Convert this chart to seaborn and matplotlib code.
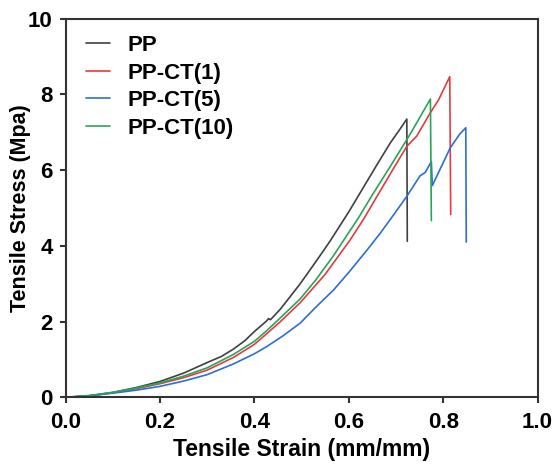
import matplotlib
matplotlib.use("Agg")
import matplotlib.pyplot as plt
import pandas as pd
import seaborn as sns

# strain (mm/mm) and stress (MPa)
pp_strain = [0.0, 0.05, 0.1, 0.15, 0.2, 0.25, 0.3, 0.33, 0.355, 0.38, 0.4, 0.426, 0.43,
             0.434, 0.455, 0.497, 0.53, 0.56, 0.6, 0.624, 0.66, 0.688, 0.705, 0.723, 0.724]
pp_stress = [0.0, 0.04, 0.13, 0.26, 0.42, 0.64, 0.92, 1.08, 1.27, 1.5, 1.74, 2.02, 2.08,
             2.05, 2.33, 3.0, 3.58, 4.12, 4.9, 5.4, 6.15, 6.72, 7.02, 7.35, 4.12]

ct1_strain = [0.0, 0.05, 0.1, 0.15, 0.2, 0.25, 0.3, 0.355, 0.4, 0.426, 0.455, 0.497,
              0.55, 0.603, 0.631, 0.65, 0.695, 0.723, 0.744, 0.772, 0.79, 0.814, 0.816]
ct1_stress = [0.0, 0.04, 0.12, 0.23, 0.36, 0.52, 0.72, 1.05, 1.40, 1.68, 2.0, 2.5,
              3.25, 4.16, 4.7, 5.1, 6.05, 6.63, 6.9, 7.5, 7.85, 8.47, 4.83]

ct5_strain = [0.0, 0.05, 0.1, 0.15, 0.2, 0.25, 0.3, 0.355, 0.4, 0.426, 0.46, 0.497,
              0.53, 0.568, 0.6, 0.638, 0.667, 0.695, 0.723, 0.751, 0.762, 0.775, 0.777,
              0.815, 0.835, 0.848, 0.849]
ct5_stress = [0.0, 0.04, 0.11, 0.19, 0.29, 0.43, 0.60, 0.88, 1.15, 1.34, 1.62, 1.96,
              2.38, 2.84, 3.3, 3.88, 4.34, 4.82, 5.31, 5.85, 5.94, 6.23, 5.59,
              6.59, 6.95, 7.12, 4.1]

ct10_strain = [0.0, 0.05, 0.1, 0.15, 0.2, 0.25, 0.3, 0.355, 0.4, 0.426, 0.455, 0.497,
               0.53, 0.568, 0.621, 0.65, 0.688, 0.73, 0.773, 0.775]
ct10_stress = [0.0, 0.05, 0.13, 0.25, 0.38, 0.56, 0.78, 1.13, 1.48, 1.76, 2.1, 2.6,
               3.1, 3.75, 4.75, 5.35, 6.1, 6.95, 7.88, 4.67]

labels = ["PP", "PP-CT(1)", "PP-CT(5)", "PP-CT(10)"]
colors = ["#404040", "#e23c3c", "#2b6fd4", "#2ba35a"]

frames = []
for lab, xs, ys in zip(labels,
                       [pp_strain, ct1_strain, ct5_strain, ct10_strain],
                       [pp_stress, ct1_stress, ct5_stress, ct10_stress]):
    frames.append(pd.DataFrame({"strain": xs, "stress": ys, "sample": lab}))
df = pd.concat(frames, ignore_index=True)

sns.set_style("ticks")
plt.rcParams['font.family'] = ['Liberation Sans', 'DejaVu Sans']
plt.rcParams['font.weight'] = 'bold'
plt.rcParams['text.color'] = 'black'
plt.rcParams['axes.labelcolor'] = 'black'
plt.rcParams['xtick.color'] = 'black'
plt.rcParams['ytick.color'] = 'black'

fig = plt.figure(figsize=(5.57, 4.68), dpi=100)
ax = fig.add_axes([0.118, 0.151, 0.847, 0.809])

sns.lineplot(data=df, x="strain", y="stress", hue="sample", hue_order=labels,
             palette=colors, sort=False, estimator=None, linewidth=1.2, ax=ax)

ax.set_xlim(0, 1.0)
ax.set_ylim(0, 10)
ax.set_xticks([0.0, 0.2, 0.4, 0.6, 0.8, 1.0])
ax.set_yticks([0, 2, 4, 6, 8, 10])
ax.set_xticklabels(["0.0", "0.2", "0.4", "0.6", "0.8", "1.0"])
ax.set_xlabel("Tensile Strain (mm/mm)", fontsize=16.5, fontweight='bold', labelpad=4)
ax.set_ylabel("Tensile Stress (Mpa)", fontsize=15.5, fontweight='bold', labelpad=-2)
ax.tick_params(axis='both', labelsize=16, width=1.5, length=4.5, color='#333333')
ax.tick_params(axis='x', pad=6)
ax.tick_params(axis='y', pad=5)
for lbl in ax.get_xticklabels() + ax.get_yticklabels():
    lbl.set_fontweight('bold')
for sp in ax.spines.values():
    sp.set_visible(True)
    sp.set_linewidth(1.5)
    sp.set_color('#333333')

leg = ax.legend(loc="upper left", bbox_to_anchor=(0.0, 1.01), frameon=False,
                fontsize=16, handlelength=1.1, handletextpad=0.8, labelspacing=0.3)
for t in leg.get_texts():
    t.set_fontweight('bold')
for ln in leg.get_lines():
    ln.set_linewidth(1.2)

fig.savefig("out.png", dpi=100)
